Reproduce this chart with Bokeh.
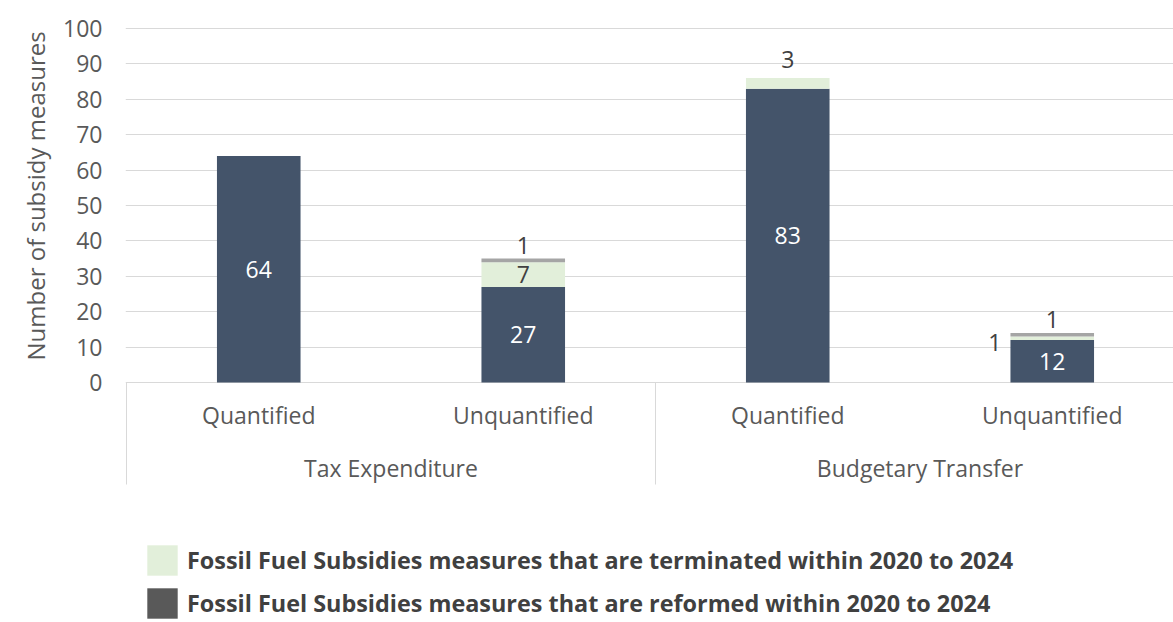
from bokeh.plotting import figure
from bokeh.models import ColumnDataSource, Range1d, FixedTicker, Legend, LegendItem, Title
from bokeh.core.properties import value
from bokeh.embed import file_html
from bokeh.resources import INLINE

# ---------------- data ----------------
groups = ["Tax Expenditure", "Tax Expenditure", "Budgetary Transfer", "Budgetary Transfer"]
subcategories = ["Quantified", "Unquantified", "Quantified", "Unquantified"]
reformed = [64, 27, 83, 12]
terminated = [0, 7, 3, 1]
other = [0, 1, 0, 1]
y_ticks = [0, 10, 20, 30, 40, 50, 60, 70, 80, 90, 100]
y_label = "Number of subsidy measures"
legend_labels = [
    "Fossil Fuel Subsidies measures that are terminated within 2020 to 2024",
    "Fossil Fuel Subsidies measures that are reformed within 2020 to 2024",
]

# ---------------- style ----------------
FONT = "Open Sans"
FS = "23px"
NAVY = "#44546A"
GREEN = "#E2EFDA"
GRAY = "#A5A5A5"
LEGEND_DARK = "#595959"
GRID = "#D9D9D9"
TXT = "#595959"
DARK_TXT = "#404040"

PX_PER_CAT = 264.5
PX_PER_UNIT = 3.54
W, H = 1173, 622
LEFT, TOP = 125, 10
frame_w = W - LEFT
frame_h = H - TOP
x_start = -1.0 / PX_PER_CAT
x_end = x_start + frame_w / PX_PER_CAT
y_top = 100 + 18 / PX_PER_UNIT
y_bottom = y_top - frame_h / PX_PER_UNIT
BAR_W = 0.316

n = len(subcategories)
xs = [i + 0.5 for i in range(n)]

p = figure(width=W, height=H, x_range=Range1d(x_start, x_end), y_range=Range1d(y_bottom, y_top),
           output_backend="svg", toolbar_location=None, x_axis_location=None,
           min_border_left=LEFT, min_border_right=0, min_border_top=TOP, min_border_bottom=0)
p.outline_line_color = None
p.xgrid.visible = False
p.ygrid.ticker = FixedTicker(ticks=y_ticks)
p.ygrid.grid_line_color = GRID
p.ygrid.grid_line_width = 1

ax = p.yaxis[0]
ax.ticker = FixedTicker(ticks=y_ticks)
ax.axis_line_color = None
ax.major_tick_line_color = None
ax.minor_tick_line_color = None
ax.major_label_text_font = FONT
ax.major_label_text_font_size = FS
ax.major_label_text_color = TXT
ax.major_label_standoff = 17

# y-axis title as a side title, placed to centre on the value range
p.add_layout(Title(text=y_label, align="left", offset=262, standoff=18,
                   text_font=FONT, text_font_size="24px", text_font_style="normal",
                   text_color=TXT), "left")

src = ColumnDataSource(dict(x=xs, reformed=reformed, terminated=terminated, other=other))
p.vbar_stack(["reformed", "terminated", "other"], x="x", width=BAR_W,
             fill_color=[NAVY, GREEN, GRAY], line_color=None, source=src)

# ---------------- data labels ----------------
series = [(reformed, "white", -13), (terminated, DARK_TXT, -19), (other, DARK_TXT, -13)]
inside = dict(x=[], y=[], t=[], c=[])
above = dict(x=[], y=[], t=[], yo=[])
left = dict(x=[], y=[], t=[])
for i in range(n):
    vals = [reformed[i], terminated[i], other[i]]
    top_idx = max(k for k in range(3) if vals[k] > 0)
    base = 0
    for k, (vlist, incol, yo) in enumerate(series):
        v = vlist[i]
        if v > 0:
            if v >= 5:
                inside["x"].append(xs[i]); inside["y"].append(base + v / 2)
                inside["t"].append(str(v)); inside["c"].append(incol)
            elif k == top_idx:
                above["x"].append(xs[i]); above["y"].append(base + v)
                above["t"].append(str(v)); above["yo"].append(yo)
            else:
                left["x"].append(xs[i] - BAR_W / 2); left["y"].append(base + v / 2)
                left["t"].append(str(v))
        base += v

p.text(x="x", y="y", text="t", text_color="c", source=ColumnDataSource(inside),
       text_font=value(FONT), text_font_size=FS, text_align="center", text_baseline="middle")
p.text(x="x", y="y", text="t", source=ColumnDataSource(above), text_color=DARK_TXT,
       text_font=value(FONT), text_font_size=FS, text_align="center", text_baseline="alphabetic",
       y_offset="yo")
p.text(x="x", y="y", text="t", source=ColumnDataSource(left), text_color=DARK_TXT,
       text_font=value(FONT), text_font_size=FS, text_align="right", text_baseline="middle",
       x_offset=-9, y_offset=4)

# ---------------- category axis (drawn) ----------------
SUB_Y = -32 / PX_PER_UNIT
GRP_Y = -85 / PX_PER_UNIT
SEP_Y = -102 / PX_PER_UNIT
p.text(x=xs, y=[SUB_Y] * n, text=subcategories, text_color=TXT, text_font=value(FONT),
       text_font_size=FS, text_align="center", text_baseline="middle")
uniq = []
for g in groups:
    if g not in uniq:
        uniq.append(g)
gx = [sum(xs[i] for i in range(n) if groups[i] == g) / groups.count(g) for g in uniq]
p.text(x=gx, y=[GRP_Y] * len(uniq), text=uniq, text_color=TXT, text_font=value(FONT),
       text_font_size=FS, text_align="center", text_baseline="middle")
bounds = [0]
for i in range(1, n):
    if groups[i] != groups[i - 1]:
        bounds.append(i)
bounds.append(n)
p.segment(x0=bounds, y0=[0] * len(bounds), x1=bounds, y1=[SEP_Y] * len(bounds),
          line_color=GRID, line_width=1)

# ---------------- legend (proxy swatches: zero-height bars) ----------------
r_term = p.vbar(x=[xs[0]], top=[0], bottom=[0], width=BAR_W, fill_color=GREEN, line_color=None)
r_ref = p.vbar(x=[xs[0]], top=[0], bottom=[0], width=BAR_W, fill_color=LEGEND_DARK, line_color=None)
legend = Legend(items=[LegendItem(label=legend_labels[0], renderers=[r_term]),
                       LegendItem(label=legend_labels[1], renderers=[r_ref])],
                location=(18, 0), padding=0, margin=0, spacing=5,
                glyph_width=38, glyph_height=38, label_standoff=6, label_height=38,
                border_line_color=None, background_fill_alpha=0,
                label_text_font=FONT, label_text_font_style="bold",
                label_text_font_size="23.4px", label_text_color=DARK_TXT)
p.add_layout(legend)

open("out.html", "w").write(file_html(p, INLINE))
